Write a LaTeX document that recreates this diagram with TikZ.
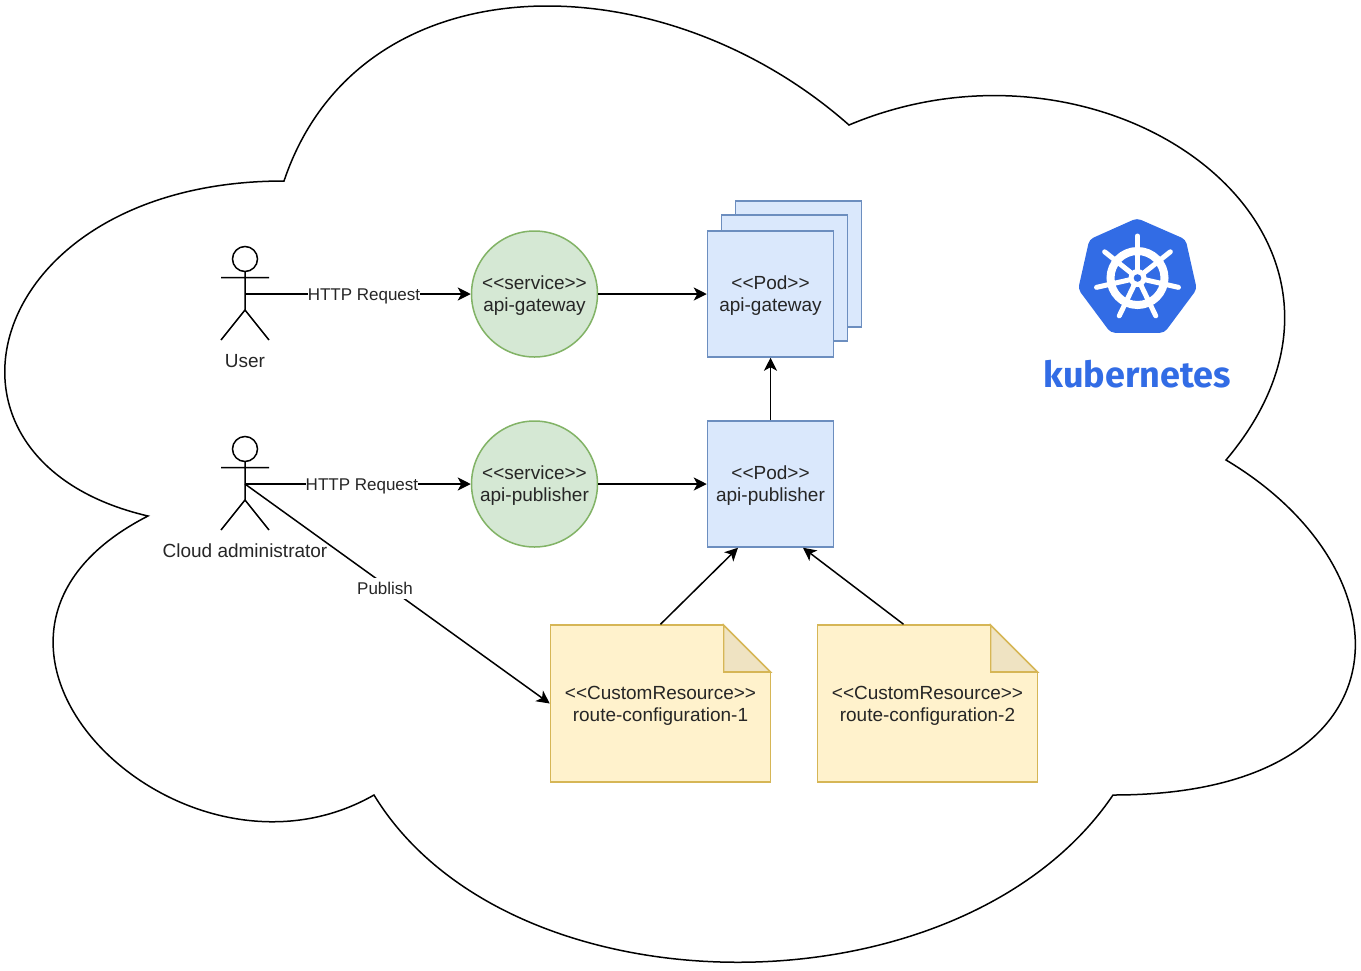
\documentclass[tikz,border=0pt]{standalone}
\usepackage{fontspec}
\usetikzlibrary{arrows.meta}
\setmainfont{Liberation Sans}
\newfontfamily\kubefont{Fira Sans}
\definecolor{kubeblue}{HTML}{326CE5}
\definecolor{svcfill}{HTML}{D5E8D4}
\definecolor{svcline}{HTML}{82B366}
\definecolor{podfill}{HTML}{DAE8FC}
\definecolor{podline}{HTML}{6C8EBF}
\definecolor{notefill}{HTML}{FFF2CC}
\definecolor{noteline}{HTML}{D6B656}
\definecolor{notefold}{HTML}{EFE3C2}
\tikzset{
  flow/.style={line width=1.5pt,->,>={Stealth[length=13pt,width=13pt,inset=3.5pt]}},
  txt/.style={font=\fontsize{19}{22}\selectfont,align=center,text=black!85,text depth=0pt},
  edgetxt/.style={font=\fontsize{17}{20}\selectfont,fill=white,inner xsep=0pt,inner ysep=0pt,text height=13pt,text depth=1pt,minimum height=21pt,text=black!85},
  svc/.style={txt,draw=svcline,fill=svcfill,circle,minimum size=126pt,inner sep=0pt},
  pod/.style={txt,draw=podline,fill=podfill,minimum size=126pt,inner sep=0pt},
  notetxt/.style={txt,minimum width=220pt,minimum height=157pt,inner sep=0pt},
  actor/.pic={
    \draw (0,-35) circle (12.5);
    \draw (0,-22) -- (0,16) (-24,-16.5) -- (24,-16.5) (-24,46) -- (0,16) -- (24,46);
  },
  notepaper/.pic={
    \path[draw=noteline,fill=notefold] (63,-78.5) -- (110,-31.5) -- (63,-31.5) -- cycle;
    \path[draw=noteline,fill=notefill] (-110,-78.5) -- (63,-78.5) -- (63,-31.5) -- (110,-31.5) -- (110,78.5) -- (-110,78.5) -- cycle;
  }
}
\begin{document}
\begin{tikzpicture}[x=1pt,y=-1pt,line width=1.5pt]
\useasboundingbox (0,0) rectangle (1361,970);

% cloud
\path[draw,fill=white] (284,181) .. controls (-18,181) and (-93,460) .. (148,516)
  .. controls (-93,639) and (178,907) .. (374,795)
  .. controls (510,1018) and (962,1018) .. (1113,795)
  .. controls (1414,795) and (1414,572) .. (1226,460)
  .. controls (1414,237) and (1113,14) .. (849,125)
  .. controls (660,-42) and (359,-42) .. (284,181) -- cycle;

% actors
\coordinate (user) at (245,294);
\coordinate (admin) at (245,484);
\pic at (user) {actor};
\pic at (admin) {actor};
\node[txt] (userlabel) at (245,361) {User};
\node[txt] (adminlabel) at (245,551) {Cloud administrator};

% services
\node[svc] (svc1) at (534.5,294) {<{}<service>{}>\\api-gateway};
\node[svc] (svc2) at (534.5,484) {<{}<service>{}>\\api-publisher};

% pods
\node[pod] (back2) at (798.5,264) {};
\node[pod] (back1) at (784.5,278) {};
\node[pod] (pod1) at (770.5,294) {<{}<Pod>{}>\\api-gateway};
\node[pod] (pod2) at (770.5,484) {<{}<Pod>{}>\\api-publisher};

% custom resources
\pic at (660.5,703.5) {notepaper};
\pic at (927.5,703.5) {notepaper};
\node[notetxt] (res1) at (660.5,703.5) {<{}<CustomResource>{}>\\route-configuration-1};
\node[notetxt] (res2) at (927.5,703.5) {<{}<CustomResource>{}>\\route-configuration-2};

\path[draw,flow] (user) -- node[edgetxt,pos=0.527] (req1) {HTTP Request} (svc1.west);
\path[draw,flow] (admin) -- node[edgetxt,pos=0.518] (req2) {HTTP Request} (svc2.west);
\path[draw,flow] (svc1) -- (pod1);
\path[draw,flow] (svc2) -- (pod2);
\path[draw,flow] (pod2) -- (pod1);
\path[draw,flow] (res1.north) -- ([xshift=-32.5pt]pod2.south);
\path[draw,flow] ([xshift=-24pt]res2.north) -- ([xshift=32.5pt]pod2.south);
\path[draw,flow] (admin) -- node[edgetxt,pos=0.476,xshift=-5pt] (pub) {Publish} (res1.west);

% logo
\path[draw=kubeblue,fill=kubeblue,line join=round,rounded corners=4pt] (1137,219) -- (1185,240) -- (1196,289) -- (1164,332) -- (1111,332) -- (1079,289) -- (1090,240) -- cycle;
\begin{scope}[shift={(1137.5,278)},draw=white,line cap=round,line width=5pt]
\draw[line width=8pt] (0,0) circle (27);
\draw (0,0) -- (-90:42);
\draw (0,0) -- (-38.57:42);
\draw (0,0) -- (-141.43:42);
\draw (0,0) -- (12.86:42);
\draw (0,0) -- (-192.86:42);
\draw (0,0) -- (64.29:42);
\draw (0,0) -- (115.71:42);
\path[fill=white] (0,0) circle (9);
\path[fill=kubeblue] (0,0) circle (3.8);
\end{scope}
\node[font=\kubefont\bfseries\fontsize{36}{40}\selectfont,text=kubeblue] (kube) at (1137,374) {kubernetes};
\end{tikzpicture}
\end{document}
